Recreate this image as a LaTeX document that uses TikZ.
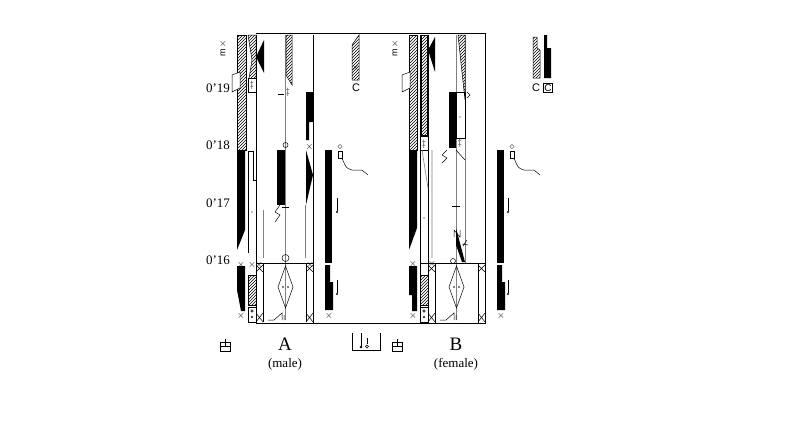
\documentclass[tikz,border=0pt]{standalone}
\usepackage{fontspec}
\setmainfont{Liberation Serif}
\setsansfont{Liberation Sans}
\usetikzlibrary{patterns}
\begin{document}
\begin{tikzpicture}[x=1pt,y=-1pt,
  hat/.style={draw=black,line width=0.5pt,pattern=north east lines},
  thin/.style={line width=0.5pt},
  gl/.style={draw=gray,line width=0.6pt},
  lab/.style={font=\fontsize{13}{13}\selectfont},
  sm/.style={font=\fontsize{9}{9}\selectfont,inner sep=0pt},
  xx/.style={font=\fontsize{10}{10}\selectfont,inner sep=0pt}]
\useasboundingbox (0,0) rectangle (785,431);
% staff borders
\draw[thin] (256,33) -- (486,33);
\draw[thin] (256,323) -- (486,323);
% time labels
\foreach \t/\y in {0'19/88,0'18/145,0'17/203,0'16/260}
  \node[lab] at (218,\y) {\t};
% ===== Staff A =====
\draw[thin] (256,35) -- (256,323);
\draw[thin] (313,35) -- (313,323);
\draw[gl] (285.5,35) -- (285.5,320);
\draw[thin] (256,263) -- (313,263);
\draw[thin] (263,263) -- (263,322) (306,263) -- (306,322);
\draw[thin] (285.5,266) -- (278,287) -- (285.5,308) -- (293,287) -- cycle;
\fill (283,287) circle (0.8) (288,287) circle (0.8);
\draw[thin] (268,320) -- (274,320) -- (282,313) -- (282,320) (284,315)--(284,320);
\foreach \x in {256,306}{\draw[thin] (\x,265) -- (\x+7,272) (\x,272)--(\x+7,265);
  \draw[thin] (\x,322) -- (\x+7,313) (\x,313)--(\x+7,322);}
% left hatched support
\draw[hat] (237,35) rectangle (246,150);
\draw[thin,fill=white] (240,72) -- (232,75) -- (232,92) -- (240,88) -- cycle;
\node[xx] at (223,44) {$\times$};
\node[sm,rotate=90] at (223,53) {$\mathsf{m}$};
\draw[hat] (248,35) -- (256,35) -- (256,85) -- (248,85) -- (252,60) -- cycle;
\fill (256,57) -- (264,40) -- (264,73) -- cycle;
\draw[thin,fill=white] (248,78) rectangle (256,92);
\node[sm] at (252,85) {$\ddagger$};
\fill (237,151) -- (245,151) -- (245,230) -- (237,250) -- cycle;
\draw[thin] (248,253) -- (248,151) -- (253,151) -- (253,180) -- (256,180);
\fill (252,212) circle (0.7);
% center
\draw[hat] (286,35) -- (292,35) -- (292,85) -- (286,75) -- cycle;
\node[sm] at (288,92) {$\ddagger$};
\draw[thin] (278,94) -- (284,94);
\draw[thin] (285.5,145) circle (2.5);
\fill (277,150) rectangle (285,205);
\draw[thin] (282,207) -- (289,207);
\draw[thin] (280,205) -- (275,212) -- (280,215) -- (275,222);
\draw[thin] (285.5,258) circle (3.5);
% right column A
\fill (306,92) rectangle (313,122) (306,122) -- (309,122) -- (309,140) -- (306,140) -- cycle;
\node[xx] at (309.5,147) {$\times$};
\fill (306,150) -- (313,175) -- (306,205) -- cycle;
\draw[gl] (263,210) -- (263,258) (305,205) -- (305,258);
\node[xx] at (241,265) {$\times$};
\node[xx] at (252,265) {$\times$};
\node[xx] at (259,265) {$\times$};
\node[xx] at (310,265) {$\times$};
\fill (237,266) -- (245,266) -- (245,311) -- (241,311) -- (237,290) -- cycle;
\draw[hat] (248,275) -- (256,275) -- (256,305) -- (248,305) -- cycle;
\draw[thin] (248,307) rectangle (256,322);
\draw[thin] (252,311) circle (1.2); \fill (252,317) circle (1.2);
\node[xx] at (241,316) {$\times$};
% outside A
\node[xx] at (340,147) {$\diamond$};
\draw[thin] (338,151) rectangle (342,158);
\draw[thin] (342,158) .. controls (346,168) .. (352,170) -- (362,170) -- (368,175);
\fill (325,150) rectangle (332,263);
\draw[thin] (337,198) -- (337,211); \fill (337,212) circle (1.2);
\fill (325,265) -- (330,265) -- (330,282) -- (333,282) -- (333,310) -- (325,310) -- cycle;
\draw[thin] (337,280) -- (337,293); \fill (337,294) circle (1.2);
\node[xx] at (329,316) {$\times$};
% C
\draw[hat] (352,45) -- (359,35) -- (359,80) -- (352,80) -- cycle;
\node[xx] at (355.5,68) {$\times$};
\node[font=\fontsize{11}{11}\selectfont\sffamily,inner sep=0pt] at (356,88) {C};
% ===== Staff B =====
\draw[thin] (420,35) -- (420,323) (428,35) -- (428,323) (435,263) -- (435,323) (478,263) -- (478,323);
\draw[thin] (485,33) -- (485,323);
\draw[gl] (456.5,35) -- (456.5,320) (465,35) -- (465,263);
\draw[thin] (420,263) -- (485,263);
\draw[thin] (456.5,266) -- (449,287) -- (456.5,308) -- (464,287) -- cycle;
\fill (454,287) circle (0.8) (459,287) circle (0.8);
\draw[thin] (440,320) -- (446,320) -- (454,313) -- (454,320) (456,315)--(456,320);
\foreach \x in {428,478}{\draw[thin] (\x,265) -- (\x+7,272) (\x,272)--(\x+7,265);
  \draw[thin] (\x,322) -- (\x+7,313) (\x,313)--(\x+7,322);}
\draw[hat] (409,35) rectangle (417,150);
\draw[thin,fill=white] (410,72) -- (402,75) -- (402,92) -- (410,88) -- cycle;
\node[xx] at (395,44) {$\times$};
\node[sm,rotate=90] at (395,53) {$\mathsf{m}$};
\draw[hat] (421,35) -- (427,35) -- (427,135) -- (421,135) -- cycle;
\fill (428,50) -- (435,37) -- (435,72) -- cycle;
\draw[thin,fill=white] (420,136) rectangle (428,150);
\node[sm] at (424,144) {$\ddagger$};
\draw[hat] (458,35) -- (465,35) -- (465,100) -- cycle;
\fill (449,92) rectangle (456,148);
\draw[thin] (456,92) rectangle (465,138);
\fill (460,117) circle (0.7);
\draw[thin] (467,92) -- (470,95) -- (467,98);
\node[sm] at (460,143) {$\ddagger$};
\draw[thin] (447,150) -- (442,155) -- (447,158) -- (442,163);
\draw[thin] (456,150) -- (465,160);
\fill (409,151) -- (417,151) -- (417,228) -- (409,250) -- cycle;
\draw[gl] (432,150) -- (432,258) (422,150) -- (428,188);
\fill (424,218) circle (0.7);
\draw[thin] (452,206) -- (460,206);
\draw[thin] (454,237) -- (454,230) -- (460,237) -- (460,230);
\draw[thin] (463,246) -- (467,240) (462,244) -- (468,245);
\fill (456,228) -- (465,262) -- (462,262) -- (456,245) -- cycle;
\draw[thin] (453,261) circle (2.5);
\node[xx] at (413,264) {$\times$};
\node[xx] at (432,264) {$\times$};
\fill (409,266) -- (417,266) -- (417,311) -- (412,311) -- (412,295) -- (409,295) -- cycle;
\draw[hat] (420,275) -- (428,275) -- (428,305) -- (420,305) -- cycle;
\draw[thin] (420,307) rectangle (428,322);
\draw[thin] (424,311) circle (1.2); \fill (424,317) circle (1.2);
\node[xx] at (413,316) {$\times$};
% outside B
\node[xx] at (512,147) {$\diamond$};
\draw[thin] (510,151) rectangle (514,158);
\draw[thin] (514,158) .. controls (518,168) .. (524,170) -- (534,170) -- (540,175);
\fill (497,150) rectangle (504,263);
\draw[thin] (508,198) -- (508,211); \fill (508,212) circle (1.2);
\fill (497,265) -- (502,265) -- (502,282) -- (505,282) -- (505,310) -- (497,310) -- cycle;
\draw[thin] (508,280) -- (508,293); \fill (508,294) circle (1.2);
\node[xx] at (501,316) {$\times$};
% C pair
\draw[hat] (533,37) -- (537,37) -- (537,48) -- (540,50) -- (540,78) -- (533,78) -- cycle;
\fill (544,35) rectangle (547,48) (544,48) rectangle (551,78);
\node[font=\fontsize{11}{11}\selectfont\sffamily,inner sep=0pt] at (536,88) {C};
\node[draw,inner sep=1pt,font=\fontsize{10}{10}\selectfont\sffamily] at (548,88) {C};
% labels
\node[font=\fontsize{19}{19}\selectfont] at (285,344) {A};
\node[lab] at (285,364) {(male)};
\node[font=\fontsize{19}{19}\selectfont] at (456,344) {B};
\node[lab] at (456,364) {(female)};
\foreach \x in {225,397}{\draw[thin] (\x-5,342) rectangle (\x+5,351) (\x-5,346)--(\x+5,346) (\x,339)--(\x,346);}
\draw[thin] (352,333) -- (352,350) -- (380,350) -- (380,333);
\draw[thin] (361,333) -- (361,346) (367,338) -- (367,344);
\fill (361,347) circle (1.3); \draw[thin] (367,346.5) circle (1.5);
\end{tikzpicture}
\end{document}
